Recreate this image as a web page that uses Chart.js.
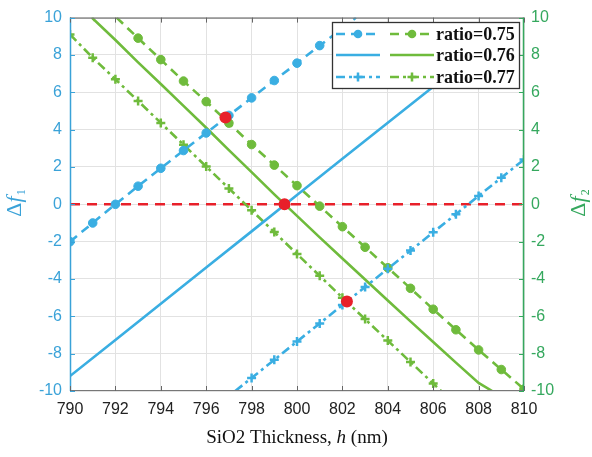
<!DOCTYPE html>
<html>
<head>
<meta charset="utf-8">
<script src="https://cdn.jsdelivr.net/npm/chart.js@4/dist/chart.umd.min.js"></script>
<style>
html,body{margin:0;padding:0;background:#fff;}
#wrap{width:592px;height:457px;position:relative;}
</style>
</head>
<body>
<div id="wrap"><canvas id="c" width="592" height="457"></canvas></div>
<script>
// ---- data ----
const xTicks = [790,792,794,796,798,800,802,804,806,808,810];
const yTicks = [-10,-8,-6,-4,-2,0,2,4,6,8,10];

// Δf1 (blue) series
const b75x = [790,791,792,793,794,795,796,797,798,799,800,801,802,802.6];
const b75y = [-2.0,-1.0,0,0.97,1.93,2.88,3.82,4.76,5.7,6.63,7.56,8.5,9.42,10];
const b76x = [790,792,794,796,798,800,802,804,806,808];
const b76y = [-9.2,-7.27,-5.33,-3.39,-1.45,0.5,2.44,4.37,6.3,8.24];
const b77x = [797.28,798,799,800,801,802,803,804,805,806,807,808,809,810];
const b77y = [-10,-9.3,-8.33,-7.35,-6.38,-5.4,-4.43,-3.45,-2.48,-1.5,-0.53,0.45,1.42,2.4];

// Δf2 (green) series
const g75x = [792.05,793,794,795,796,797,798,799,800,801,802,803,804,805,806,807,808,809,810];
const g75y = [10,8.9,7.75,6.6,5.5,4.35,3.2,2.1,1.0,-0.1,-1.2,-2.3,-3.4,-4.5,-5.62,-6.72,-7.8,-8.85,-9.9];
const g76x = [790.97,791,792,793,794,795,796,797,798,799,800,801,802,803,804,805,806,807,808,808.6];
const g76y = [10,9.96,8.8,7.6,6.44,5.27,4.1,2.9,1.72,0.53,-0.62,-1.77,-2.9,-4.03,-5.15,-6.27,-7.38,-8.48,-9.57,-10];
const g77x = [790,791,792,793,794,795,796,797,798,799,800,801,802,803,804,805,806,806.35];
const g77y = [9.1,7.85,6.7,5.53,4.36,3.19,2.02,0.85,-0.32,-1.49,-2.66,-3.83,-5.0,-6.15,-7.3,-8.45,-9.6,-10];

// intersection points and zero line
const redX = [796.85,799.45,802.2];
const redY = [4.65,0,-5.2];
const zeroX = [790,810];
const zeroY = [0,0];

const legendLabels = ['ratio=0.75','ratio=0.76','ratio=0.77'];

// ---- styles ----
const BLUE = '#3aaee2';
const GREEN = '#6fbb3c';
const RED = '#e8202a';
const LBLUE = '#3aa2d8';
const RGREEN = '#35a85e';

const pts = (xs, ys) => xs.map((x,i)=>({x:x,y:ys[i]}));
const onInt = (ctx) => { const v = ctx.raw; return (v && Number.isInteger(v.x)) ? 1 : 0; };

const DASH = [9,6];
const DASHDOT = [9,4,3,4];

function series(xs, ys, color, dash, marker, axis) {
  return {
    data: pts(xs, ys),
    yAxisID: axis,
    borderColor: color,
    backgroundColor: color,
    borderWidth: 2.6,
    borderDash: dash,
    pointStyle: marker || 'circle',
    pointRadius: marker ? (c => onInt(c) ? (marker==='circle'?4.3:4.5) : 0) : 0,
    pointBorderWidth: marker === 'cross' ? 2.5 : 1,
    pointHoverRadius: 0,
    tension: 0,
    fill: false,
    clip: 0
  };
}

const datasets = [
  series(b75x,b75y,BLUE,DASH,'circle','y'),
  series(b76x,b76y,BLUE,[],null,'y'),
  series(b77x,b77y,BLUE,DASHDOT,'cross','y'),
  series(g75x,g75y,GREEN,DASH,'circle','y2'),
  series(g76x,g76y,GREEN,[],null,'y2'),
  series(g77x,g77y,GREEN,DASHDOT,'cross','y2'),
  {
    data: pts(zeroX, zeroY), yAxisID:'y', borderColor: RED, borderWidth: 2.6,
    borderDash:[10,7], pointRadius:0, order: 10
  },
  {
    data: pts(redX, redY), yAxisID:'y', showLine:false, borderColor: RED,
    backgroundColor: RED, pointRadius: 6, pointHoverRadius:0, pointBorderWidth:0, order:-1
  }
];

const PLOT = {left:70, right:524, top:15, bottom:391};

const decorPlugin = {
  id: 'decor',
  afterDraw(chart) {
    const ctx = chart.ctx;
    const a = chart.chartArea;
    const xs = chart.scales.x, ys = chart.scales.y;
    ctx.save();
    // frame
    ctx.lineWidth = 1.2;
    ctx.strokeStyle = '#777';
    ctx.beginPath(); ctx.moveTo(a.left, a.top+0.5); ctx.lineTo(a.right, a.top+0.5); ctx.stroke();
    ctx.beginPath(); ctx.moveTo(a.left, a.bottom-0.5); ctx.lineTo(a.right, a.bottom-0.5); ctx.stroke();
    ctx.strokeStyle = LBLUE; ctx.lineWidth = 1.5;
    ctx.beginPath(); ctx.moveTo(a.left+0.5, a.top); ctx.lineTo(a.left+0.5, a.bottom); ctx.stroke();
    ctx.strokeStyle = RGREEN;
    ctx.beginPath(); ctx.moveTo(a.right-0.5, a.top); ctx.lineTo(a.right-0.5, a.bottom); ctx.stroke();
    // inner ticks
    ctx.lineWidth = 1;
    ctx.strokeStyle = '#666';
    xTicks.forEach(v => {
      const px = Math.round(xs.getPixelForValue(v)) + 0.5;
      ctx.beginPath(); ctx.moveTo(px, a.bottom); ctx.lineTo(px, a.bottom-5); ctx.stroke();
      ctx.beginPath(); ctx.moveTo(px, a.top); ctx.lineTo(px, a.top+5); ctx.stroke();
    });
    yTicks.forEach(v => {
      const py = Math.round(ys.getPixelForValue(v)) + 0.5;
      ctx.strokeStyle = LBLUE;
      ctx.beginPath(); ctx.moveTo(a.left, py); ctx.lineTo(a.left+5, py); ctx.stroke();
      ctx.strokeStyle = RGREEN;
      ctx.beginPath(); ctx.moveTo(a.right, py); ctx.lineTo(a.right-5, py); ctx.stroke();
    });

    // legend box
    const L = {x:332, y:22, w:187, h:66};
    ctx.fillStyle = '#fff';
    ctx.fillRect(L.x, L.y, L.w, L.h);
    ctx.strokeStyle = '#333'; ctx.lineWidth = 1.3;
    ctx.strokeRect(L.x+0.5, L.y+0.5, L.w, L.h);
    const rows = [34, 55, 77];
    const styles = [[DASH,'circle'],[[],null],[DASHDOT,'cross']];
    rows.forEach((ry, i) => {
      [[BLUE, 336, 380],[GREEN, 390, 434]].forEach(([col, x0, x1]) => {
        ctx.strokeStyle = col; ctx.lineWidth = 2.6;
        ctx.setLineDash(styles[i][0]);
        ctx.beginPath(); ctx.moveTo(x0, ry); ctx.lineTo(x1, ry); ctx.stroke();
        ctx.setLineDash([]);
        const mx = (x0+x1)/2;
        if (styles[i][1] === 'circle') {
          ctx.fillStyle = col; ctx.beginPath(); ctx.arc(mx, ry, 4.3, 0, Math.PI*2); ctx.fill();
        } else if (styles[i][1] === 'cross') {
          ctx.lineWidth = 2.5;
          ctx.beginPath(); ctx.moveTo(mx-4.5, ry); ctx.lineTo(mx+4.5, ry);
          ctx.moveTo(mx, ry-4.5); ctx.lineTo(mx, ry+4.5); ctx.stroke();
        }
      });
      ctx.fillStyle = '#111';
      ctx.font = 'bold 18px "Liberation Serif", "Times New Roman", serif';
      ctx.textBaseline = 'middle'; ctx.textAlign = 'left';
      ctx.fillText(legendLabels[i], 436, ry+1);
    });

    // axis titles
    function deltaF(x, y, sub, color) {
      ctx.save();
      ctx.translate(x, y);
      ctx.rotate(-Math.PI/2);
      ctx.fillStyle = color;
      ctx.textBaseline = 'alphabetic';
      ctx.font = '22px "Liberation Serif", serif';
      const w1 = ctx.measureText('\u0394').width;
      ctx.font = 'italic 22px "Liberation Serif", serif';
      const w2 = ctx.measureText('f').width;
      ctx.font = '12px "Liberation Serif", serif';
      const w3 = ctx.measureText(sub).width;
      let cx = -(w1+w2+w3+1)/2;
      ctx.font = '22px "Liberation Serif", serif';
      ctx.fillText('\u0394', cx, 7); cx += w1;
      ctx.font = 'italic 22px "Liberation Serif", serif';
      ctx.fillText('f', cx, 7); cx += w2 + 1;
      ctx.font = '12px "Liberation Serif", serif';
      ctx.fillText(sub, cx, 11);
      ctx.restore();
    }
    deltaF(14, 203, '1', LBLUE);
    deltaF(578, 203, '2', RGREEN);

    // x title
    ctx.fillStyle = '#111';
    ctx.textBaseline = 'alphabetic';
    const parts = [['SiO2 Thickness, ', '19px "Liberation Serif", serif'], ['h', 'italic 19px "Liberation Serif", serif'], [' (nm)', '19px "Liberation Serif", serif']];
    let tw = 0;
    parts.forEach(p => { ctx.font = p[1]; tw += ctx.measureText(p[0]).width; });
    let tx = 297 - tw/2;
    parts.forEach(p => { ctx.font = p[1]; ctx.fillText(p[0], tx, 443); tx += ctx.measureText(p[0]).width; });
    ctx.restore();
  }
};

new Chart(document.getElementById('c'), {
  type: 'line',
  data: { datasets },
  options: {
    responsive: false,
    animation: false,
    devicePixelRatio: 1,
    layout: { padding: { top: PLOT.top, left: 0, right: 0, bottom: 0 } },
    plugins: { legend: { display: false }, tooltip: { enabled: false } },
    scales: {
      x: {
        type: 'linear', min: 790, max: 810,
        afterBuildTicks: s => { s.ticks = xTicks.map(v => ({value: v})); },
        afterFit: s => { s.height = 457 - PLOT.bottom; },
        grid: { color: '#e2e2e2', lineWidth: 1, drawTicks: false },
        border: { display: false },
        ticks: { color: '#222', padding: 9, font: { family: '"Liberation Sans", Arial, sans-serif', size: 16 }, maxRotation: 0 }
      },
      y: {
        position: 'left', min: -10, max: 10,
        afterBuildTicks: s => { s.ticks = yTicks.map(v => ({value: v})); },
        afterFit: s => { s.width = PLOT.left; },
        grid: { color: '#e2e2e2', lineWidth: 1, drawTicks: false },
        border: { display: false },
        ticks: { color: LBLUE, padding: 8, font: { family: '"Liberation Sans", Arial, sans-serif', size: 16 } }
      },
      y2: {
        position: 'right', min: -10, max: 10,
        afterBuildTicks: s => { s.ticks = yTicks.map(v => ({value: v})); },
        afterFit: s => { s.width = 592 - PLOT.right; },
        grid: { display: false, drawTicks: false },
        border: { display: false },
        ticks: { color: RGREEN, padding: 7, font: { family: '"Liberation Sans", Arial, sans-serif', size: 16 } }
      }
    }
  },
  plugins: [decorPlugin]
});
</script>
</body>
</html>
